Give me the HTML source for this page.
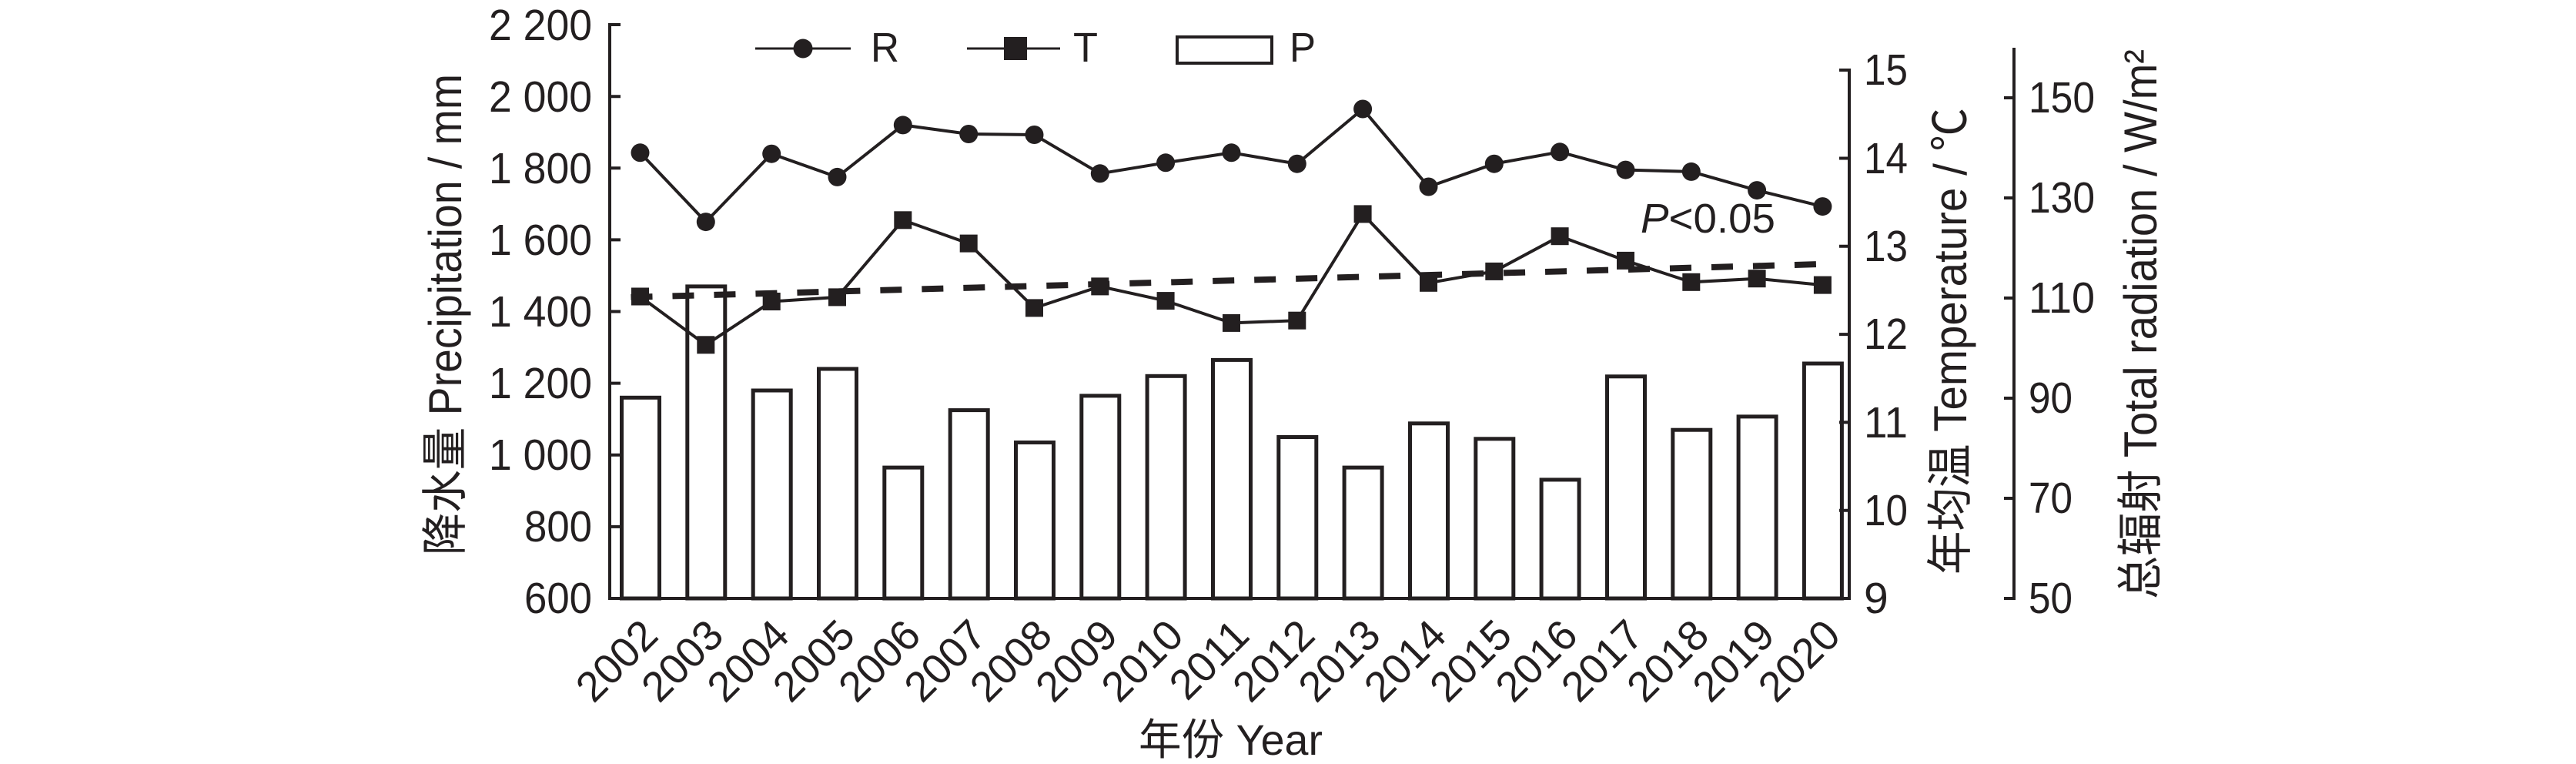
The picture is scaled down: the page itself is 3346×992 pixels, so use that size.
<!DOCTYPE html>
<html><head><meta charset="utf-8"><style>
html,body{margin:0;padding:0;background:#fff;}
svg{display:block;}
text{font-family:"Liberation Sans","Noto Sans CJK SC",sans-serif;fill:#231f20;}
</style></head><body>
<svg width="3346" height="992" viewBox="0 0 3346 992" xmlns="http://www.w3.org/2000/svg">
<g fill="#fff" stroke="#231f20" stroke-width="5">
<rect x="807.5" y="516.3" width="49" height="260.7"/>
<rect x="892.8" y="371.9" width="49" height="405.1"/>
<rect x="978.2" y="507" width="49" height="270"/>
<rect x="1063.5" y="479" width="49" height="298"/>
<rect x="1148.8" y="607.1" width="49" height="169.9"/>
<rect x="1234.2" y="532.6" width="49" height="244.4"/>
<rect x="1319.5" y="574.5" width="49" height="202.5"/>
<rect x="1404.8" y="513.9" width="49" height="263.1"/>
<rect x="1490.1" y="488.3" width="49" height="288.7"/>
<rect x="1575.5" y="467.4" width="49" height="309.6"/>
<rect x="1660.8" y="567.5" width="49" height="209.5"/>
<rect x="1746.1" y="607.1" width="49" height="169.9"/>
<rect x="1831.5" y="549.8" width="49" height="227.2"/>
<rect x="1916.8" y="569.8" width="49" height="207.2"/>
<rect x="2002.1" y="622.9" width="49" height="154.1"/>
<rect x="2087.5" y="488.8" width="49" height="288.2"/>
<rect x="2172.8" y="558.2" width="49" height="218.8"/>
<rect x="2258.1" y="540.9" width="49" height="236.1"/>
<rect x="2343.4" y="472" width="49" height="305"/>
</g>
<line x1="819.5" y1="385.9" x2="2379.4" y2="342.6" stroke="#231f20" stroke-width="8" stroke-dasharray="28 26"/>
<path d="M831.5 198.3L916.8 288.1L1002.2 199.7L1087.5 229.9L1172.8 162.4L1258.2 174L1343.5 175L1428.8 225.3L1514.1 211.3L1599.5 198.3L1684.8 212.7L1770.1 141.5L1855.5 242.5L1940.8 212.7L2026.1 197.3L2111.5 220.6L2196.8 222.9L2282.1 247.1L2367.4 268.1" fill="none" stroke="#231f20" stroke-width="4"/>
<path d="M831.5 385L916.8 447.8L1002.2 391.5L1087.5 385.9L1172.8 285.8L1258.2 316.1L1343.5 399.9L1428.8 371.9L1514.1 390.6L1599.5 419.4L1684.8 416.2L1770.1 277.9L1855.5 367.3L1940.8 352.4L2026.1 306.7L2111.5 338.4L2196.8 366.3L2282.1 361.7L2367.4 370.1" fill="none" stroke="#231f20" stroke-width="4"/>
<g fill="#231f20">
<circle cx="831.5" cy="198.3" r="12"/><circle cx="916.8" cy="288.1" r="12"/><circle cx="1002.2" cy="199.7" r="12"/><circle cx="1087.5" cy="229.9" r="12"/><circle cx="1172.8" cy="162.4" r="12"/><circle cx="1258.2" cy="174" r="12"/><circle cx="1343.5" cy="175" r="12"/><circle cx="1428.8" cy="225.3" r="12"/><circle cx="1514.1" cy="211.3" r="12"/><circle cx="1599.5" cy="198.3" r="12"/><circle cx="1684.8" cy="212.7" r="12"/><circle cx="1770.1" cy="141.5" r="12"/><circle cx="1855.5" cy="242.5" r="12"/><circle cx="1940.8" cy="212.7" r="12"/><circle cx="2026.1" cy="197.3" r="12"/><circle cx="2111.5" cy="220.6" r="12"/><circle cx="2196.8" cy="222.9" r="12"/><circle cx="2282.1" cy="247.1" r="12"/><circle cx="2367.4" cy="268.1" r="12"/>
<rect x="820" y="373.5" width="23" height="23"/><rect x="905.3" y="436.3" width="23" height="23"/><rect x="990.7" y="380" width="23" height="23"/><rect x="1076" y="374.4" width="23" height="23"/><rect x="1161.3" y="274.3" width="23" height="23"/><rect x="1246.7" y="304.6" width="23" height="23"/><rect x="1332" y="388.4" width="23" height="23"/><rect x="1417.3" y="360.4" width="23" height="23"/><rect x="1502.6" y="379.1" width="23" height="23"/><rect x="1588" y="407.9" width="23" height="23"/><rect x="1673.3" y="404.7" width="23" height="23"/><rect x="1758.6" y="266.4" width="23" height="23"/><rect x="1844" y="355.8" width="23" height="23"/><rect x="1929.3" y="340.9" width="23" height="23"/><rect x="2014.6" y="295.2" width="23" height="23"/><rect x="2100" y="326.9" width="23" height="23"/><rect x="2185.3" y="354.8" width="23" height="23"/><rect x="2270.6" y="350.2" width="23" height="23"/><rect x="2355.9" y="358.6" width="23" height="23"/>
</g>
<g stroke="#231f20" stroke-width="4" fill="none">
<path d="M806 32 H792 V777 H2402 V91 H2389"/>
<path d="M2616 62 V777 H2603"/>
<path d="M792 683.9h14M792 590.8h14M792 497.6h14M792 404.5h14M792 311.4h14M792 218.3h14M792 125.2h14"/>
<path d="M2389 662.7h13M2389 548.4h13M2389 434.1h13M2389 319.8h13M2389 205.5h13"/>
<path d="M2603 647h13M2603 517h13M2603 387h13M2603 257h13M2603 127h13"/>
</g>
<g font-size="57" text-anchor="end" lengthAdjust="spacingAndGlyphs">
<text x="769" y="796" textLength="88" lengthAdjust="spacingAndGlyphs">600</text><text x="769" y="703" textLength="88" lengthAdjust="spacingAndGlyphs">800</text><text x="769" y="610" textLength="134" lengthAdjust="spacingAndGlyphs">1 000</text><text x="769" y="517" textLength="134" lengthAdjust="spacingAndGlyphs">1 200</text><text x="769" y="424" textLength="134" lengthAdjust="spacingAndGlyphs">1 400</text><text x="769" y="331" textLength="134" lengthAdjust="spacingAndGlyphs">1 600</text><text x="769" y="238" textLength="134" lengthAdjust="spacingAndGlyphs">1 800</text><text x="769" y="145" textLength="134" lengthAdjust="spacingAndGlyphs">2 000</text><text x="769" y="52" textLength="134" lengthAdjust="spacingAndGlyphs">2 200</text>
</g>
<g font-size="57">
<text x="2421" y="796">9</text><text x="2421" y="682" textLength="57" lengthAdjust="spacingAndGlyphs">10</text><text x="2421" y="568" textLength="57" lengthAdjust="spacingAndGlyphs">11</text><text x="2421" y="453" textLength="57" lengthAdjust="spacingAndGlyphs">12</text><text x="2421" y="339" textLength="57" lengthAdjust="spacingAndGlyphs">13</text><text x="2421" y="225" textLength="57" lengthAdjust="spacingAndGlyphs">14</text><text x="2421" y="110" textLength="57" lengthAdjust="spacingAndGlyphs">15</text>
<text x="2635" y="796" textLength="57" lengthAdjust="spacingAndGlyphs">50</text><text x="2635" y="666" textLength="57" lengthAdjust="spacingAndGlyphs">70</text><text x="2635" y="536" textLength="57" lengthAdjust="spacingAndGlyphs">90</text><text x="2635" y="406" textLength="86" lengthAdjust="spacingAndGlyphs">110</text><text x="2635" y="276" textLength="86" lengthAdjust="spacingAndGlyphs">130</text><text x="2635" y="146" textLength="86" lengthAdjust="spacingAndGlyphs">150</text>
</g>
<g font-size="55" text-anchor="end">
<text x="857.5" y="828" transform="rotate(-45 857.5 828)">2002</text>
<text x="942.8" y="828" transform="rotate(-45 942.8 828)">2003</text>
<text x="1028.2" y="828" transform="rotate(-45 1028.2 828)">2004</text>
<text x="1113.5" y="828" transform="rotate(-45 1113.5 828)">2005</text>
<text x="1198.8" y="828" transform="rotate(-45 1198.8 828)">2006</text>
<text x="1284.2" y="828" transform="rotate(-45 1284.2 828)">2007</text>
<text x="1369.5" y="828" transform="rotate(-45 1369.5 828)">2008</text>
<text x="1454.8" y="828" transform="rotate(-45 1454.8 828)">2009</text>
<text x="1540.1" y="828" transform="rotate(-45 1540.1 828)">2010</text>
<text x="1625.5" y="828" transform="rotate(-45 1625.5 828)">2011</text>
<text x="1710.8" y="828" transform="rotate(-45 1710.8 828)">2012</text>
<text x="1796.1" y="828" transform="rotate(-45 1796.1 828)">2013</text>
<text x="1881.5" y="828" transform="rotate(-45 1881.5 828)">2014</text>
<text x="1966.8" y="828" transform="rotate(-45 1966.8 828)">2015</text>
<text x="2052.1" y="828" transform="rotate(-45 2052.1 828)">2016</text>
<text x="2137.5" y="828" transform="rotate(-45 2137.5 828)">2017</text>
<text x="2222.8" y="828" transform="rotate(-45 2222.8 828)">2018</text>
<text x="2308.1" y="828" transform="rotate(-45 2308.1 828)">2019</text>
<text x="2393.4" y="828" transform="rotate(-45 2393.4 828)">2020</text>
</g>
<text x="1479" y="980" font-size="56" textLength="239" lengthAdjust="spacingAndGlyphs">年份 Year</text>
<text transform="translate(599 721) rotate(-90)" font-size="60" textLength="625" lengthAdjust="spacingAndGlyphs">降水量 Precipitation / mm</text>
<text transform="translate(2554 746) rotate(-90)" font-size="60" textLength="606" lengthAdjust="spacingAndGlyphs">年均温 Temperature / ℃</text>
<text transform="translate(2801 778) rotate(-90)" font-size="60" textLength="714" lengthAdjust="spacingAndGlyphs">总辐射 Total radiation / W/m²</text>
<line x1="981" y1="63" x2="1105" y2="63" stroke="#231f20" stroke-width="3"/><circle cx="1043" cy="63" r="12.5" fill="#231f20"/>
<text x="1131" y="80" font-size="54" textLength="37" lengthAdjust="spacingAndGlyphs">R</text>
<line x1="1256" y1="63" x2="1377" y2="63" stroke="#231f20" stroke-width="3"/><rect x="1304" y="48" width="30" height="30" fill="#231f20"/>
<text x="1394" y="80" font-size="54" textLength="32" lengthAdjust="spacingAndGlyphs">T</text>
<rect x="1529" y="48" width="123" height="34" fill="#fff" stroke="#231f20" stroke-width="4"/>
<text x="1675" y="80" font-size="54" textLength="34" lengthAdjust="spacingAndGlyphs">P</text>
<text x="2131" y="302" font-size="54" textLength="175" lengthAdjust="spacingAndGlyphs"><tspan font-style="italic">P</tspan>&lt;0.05</text>
</svg>
</body></html>
